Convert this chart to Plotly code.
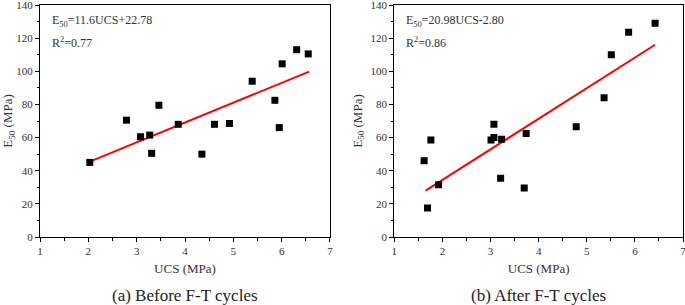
import plotly.graph_objects as go
from plotly.subplots import make_subplots

# (a) Before F-T cycles
ucs_before = [2.03, 2.79, 3.08, 3.27, 3.31, 3.46, 3.86, 4.35, 4.61, 4.92, 5.39, 5.86, 5.95, 6.01, 6.31, 6.55]
e50_before = [45, 70.5, 60.5, 61.5, 50.5, 79.5, 68, 50, 68, 68.5, 94, 82.5, 66, 104.5, 113, 110.5]
fit_before_x = [2.03, 6.57]
fit_before_y = [45.5, 99.8]

# (b) After F-T cycles
ucs_after = [1.62, 1.69, 1.76, 1.92, 3.01, 3.07, 3.07, 3.21, 3.23, 3.70, 3.74, 4.78, 5.36, 5.51, 5.87, 6.42]
e50_after = [46, 17.5, 58.5, 31.5, 58.5, 60, 68, 35.5, 59, 29.5, 62.5, 66.5, 84, 110, 123.5, 129]
fit_after_x = [1.65, 6.42]
fit_after_y = [28, 116]

eq_texts = ["E<sub>50</sub>=11.6UCS+22.78", "E<sub>50</sub>=20.98UCS-2.80"]
r2_texts = ["R<sup>2</sup>=0.77", "R<sup>2</sup>=0.86"]
captions = ["(a) Before F-T cycles", "(b) After F-T cycles"]

FONT = "Liberation Serif"

fig = make_subplots(rows=1, cols=2, horizontal_spacing=0.1)

for i, (xs, ys, fx, fy) in enumerate([(ucs_before, e50_before, fit_before_x, fit_before_y),
                                       (ucs_after, e50_after, fit_after_x, fit_after_y)]):
    col = i + 1
    fig.add_trace(go.Scatter(x=fx, y=fy, mode="lines",
                             line=dict(color="#ff0000", width=2), showlegend=False), row=1, col=col)
    fig.add_trace(go.Scatter(x=xs, y=ys, mode="markers",
                             marker=dict(symbol="square", size=7, color="black"),
                             showlegend=False), row=1, col=col)

axis_common = dict(showline=True, linecolor="black", linewidth=1, mirror=True, automargin=False,
                   ticks="outside", ticklen=4, tickcolor="black", showgrid=False, zeroline=False,
                   ticklabeloverflow="allow",
                   tickfont=dict(family=FONT, size=11, color="#333"),
                   minor=dict(ticks="outside", ticklen=2.5, tickcolor="black", showgrid=False))

for col in (1, 2):
    fig.update_xaxes(range=[1, 7], dtick=1, minor_dtick=0.5,
                     title=dict(text="UCS (MPa)", font=dict(family=FONT, size=13, color="#333"), standoff=7),
                     row=1, col=col, **axis_common)
    fig.update_yaxes(range=[0, 140], dtick=20, minor_dtick=10,
                     title=dict(text="E<sub>50</sub> (MPa)", font=dict(family=FONT, size=13, color="#333"), standoff=5),
                     row=1, col=col, **axis_common)

fig.update_layout(
    width=685, height=305,
    font=dict(family=FONT),
    margin=dict(l=40, r=2, t=5, b=68, autoexpand=False),
    paper_bgcolor="white", plot_bgcolor="white",
    xaxis=dict(domain=[0, 0.451]),
    xaxis2=dict(domain=[0.551, 1.0]),
)

for i, xref in enumerate(["x domain", "x2 domain"]):
    yref = "y domain" if i == 0 else "y2 domain"
    fig.add_annotation(x=0.035, y=0.93, xref=xref, yref=yref, text=eq_texts[i], showarrow=False,
                       xanchor="left", yanchor="middle", font=dict(family=FONT, size=12, color="#333"))
    fig.add_annotation(x=0.035, y=0.84, xref=xref, yref=yref, text=r2_texts[i], showarrow=False,
                       xanchor="left", yanchor="middle", font=dict(family=FONT, size=12, color="#333"))
    fig.add_annotation(x=0.5, y=-0.254, xref=xref, yref="paper", text=captions[i], showarrow=False,
                       xanchor="center", yanchor="middle", font=dict(family=FONT, size=17, color="#222"))

fig.write_html("out.html", config={"displayModeBar": False},
               post_script="document.body.style.margin='0';document.body.style.overflow='hidden';")
